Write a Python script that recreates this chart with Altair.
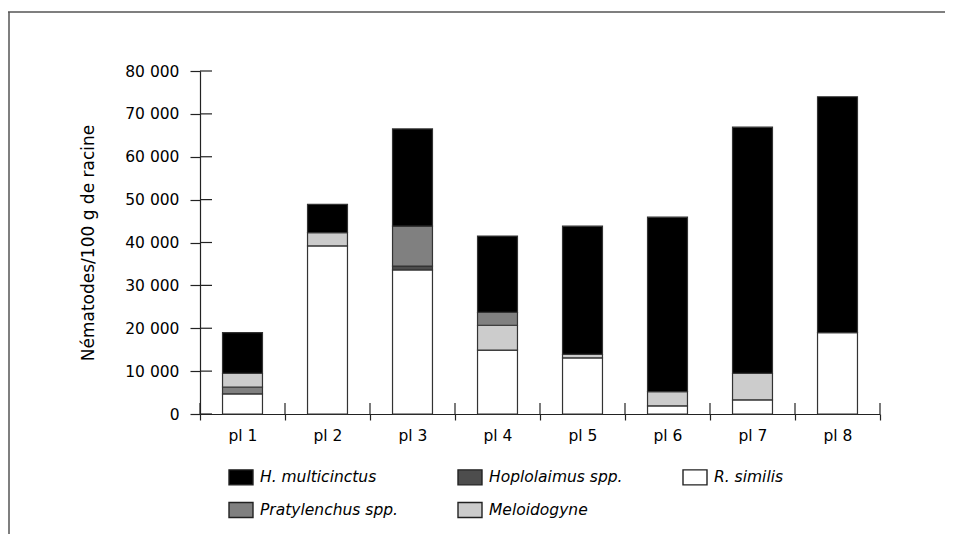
import altair as alt
import pandas as pd

plots = ["pl 1", "pl 2", "pl 3", "pl 4", "pl 5", "pl 6", "pl 7", "pl 8"]
species = ["H. multicinctus", "Hoplolaimus spp.", "R. similis", "Pratylenchus spp.", "Meloidogyne"]
fills = ["#000000", "#4d4d4d", "#ffffff", "#808080", "#cccccc"]

r_similis = [4700, 39200, 33600, 14900, 13100, 1900, 3300, 19000]
hoplolaimus = [0, 0, 900, 0, 0, 0, 0, 0]
pratylenchus = [1600, 0, 9300, 3000, 0, 0, 0, 0]
meloidogyne = [3200, 3100, 0, 5800, 800, 3300, 6200, 0]
h_multicinctus = [9500, 6600, 22700, 17800, 29900, 40700, 57400, 55000]

values = {
    "R. similis": r_similis,
    "Hoplolaimus spp.": hoplolaimus,
    "Pratylenchus spp.": pratylenchus,
    "Meloidogyne": meloidogyne,
    "H. multicinctus": h_multicinctus,
}

# bottom-to-top stacking of the segments in each bar
default_stack = ["R. similis", "Hoplolaimus spp.", "Meloidogyne", "Pratylenchus spp.", "H. multicinctus"]
pl1_stack = ["R. similis", "Hoplolaimus spp.", "Pratylenchus spp.", "Meloidogyne", "H. multicinctus"]
stacks = [pl1_stack] + [default_stack] * 7

y_ticks = [0, 10000, 20000, 30000, 40000, 50000, 60000, 70000, 80000]

rows = []
for i, p in enumerate(plots):
    for rank, sp in enumerate(stacks[i]):
        v = values[sp][i]
        if v > 0:
            rows.append({"plot": p, "species": sp, "value": v, "rank": rank})
df = pd.DataFrame(rows)

FONT = "DejaVu Sans"

xscale = alt.Scale(domain=plots, paddingInner=0, paddingOuter=0)
yscale = alt.Scale(domain=[0, 80000], nice=False)

xaxis = alt.Axis(
    title=None, tickBand="extent", tickSize=6, tickWidth=1.2, tickColor="#222",
    domainColor="#222", domainWidth=1.2, labelFont=FONT, labelFontSize=15.5,
    labelColor="#000", labelPadding=8, labelAngle=0, grid=False,
)
yaxis = alt.Axis(
    title="Nématodes/100 g de racine", values=y_ticks,
    labelExpr="replace(format(datum.value, ',d'), ',', ' ')",
    tickSize=10, tickWidth=1.2, tickColor="#222", domainColor="#222", domainWidth=1.2,
    labelFont=FONT, labelFontSize=15.5, labelColor="#000", labelPadding=11,
    titleFont=FONT, titleFontSize=17, titleFontWeight="normal", titleColor="#000",
    titlePadding=27, grid=False,
)

bars = alt.Chart(df).mark_bar(
    width=alt.RelativeBandSize(0.47), stroke="#333", strokeWidth=1.2
).encode(
    x=alt.X("plot:N", sort=plots, scale=xscale, axis=xaxis),
    y=alt.Y("value:Q", stack="zero", scale=yscale, axis=yaxis),
    fill=alt.Fill(
        "species:N",
        scale=alt.Scale(domain=species, range=fills),
        legend=alt.Legend(
            title=None, orient="none", legendX=28, legendY=393, columns=3,
            direction="horizontal", symbolType="M-1,-0.625H1V0.625H-1Z",
            symbolSize=576, symbolStrokeColor="#222", symbolStrokeWidth=1.4,
            labelFont=FONT, labelFontSize=15.5, labelFontStyle="italic",
            labelColor="#000", labelOffset=6, rowPadding=9, columnPadding=57,
            labelLimit=300,
        ),
    ),
    order=alt.Order("rank:Q", sort="ascending"),
)

ytick_df = pd.DataFrame({"value": y_ticks})
ytick_right = alt.Chart(ytick_df).mark_rule(color="#222", strokeWidth=1.2).encode(
    y=alt.Y("value:Q", scale=yscale, axis=yaxis),
    x=alt.value(0),
    x2=alt.value(12),
)

plot_df = pd.DataFrame({"plot": plots})
xtick_up = alt.Chart(plot_df).mark_rule(color="#222", strokeWidth=1.2).encode(
    x=alt.X("plot:N", sort=plots, scale=xscale, axis=xaxis, bandPosition=0),
    y=alt.value(343),
    y2=alt.value(332),
)
last_df = pd.DataFrame({"plot": [plots[-1]]})
xtick_up_last = alt.Chart(last_df).mark_rule(color="#222", strokeWidth=1.2).encode(
    x=alt.X("plot:N", sort=plots, scale=xscale, axis=xaxis, bandPosition=1),
    y=alt.value(343),
    y2=alt.value(332),
)

frame_data = alt.Data(values=[{"k": 1}])
frame_top = alt.Chart(frame_data).mark_rule(color="#555", strokeWidth=1.5).encode(
    x=alt.value(-200), x2=alt.value(1000), y=alt.value(-59)
)
frame_left = alt.Chart(frame_data).mark_rule(color="#555", strokeWidth=1.5).encode(
    x=alt.value(-191), y=alt.value(-59), y2=alt.value(1000)
)

chart = alt.layer(
    bars, ytick_right, xtick_up, xtick_up_last, frame_top, frame_left
).properties(
    width=680,
    height=343,
    padding={"left": 192, "top": 63, "right": 65, "bottom": 120},
    autosize=alt.AutoSizeParams(type="none"),
).configure_view(stroke=None)

chart.save("out.html", embed_options={"renderer": "svg", "actions": False})
